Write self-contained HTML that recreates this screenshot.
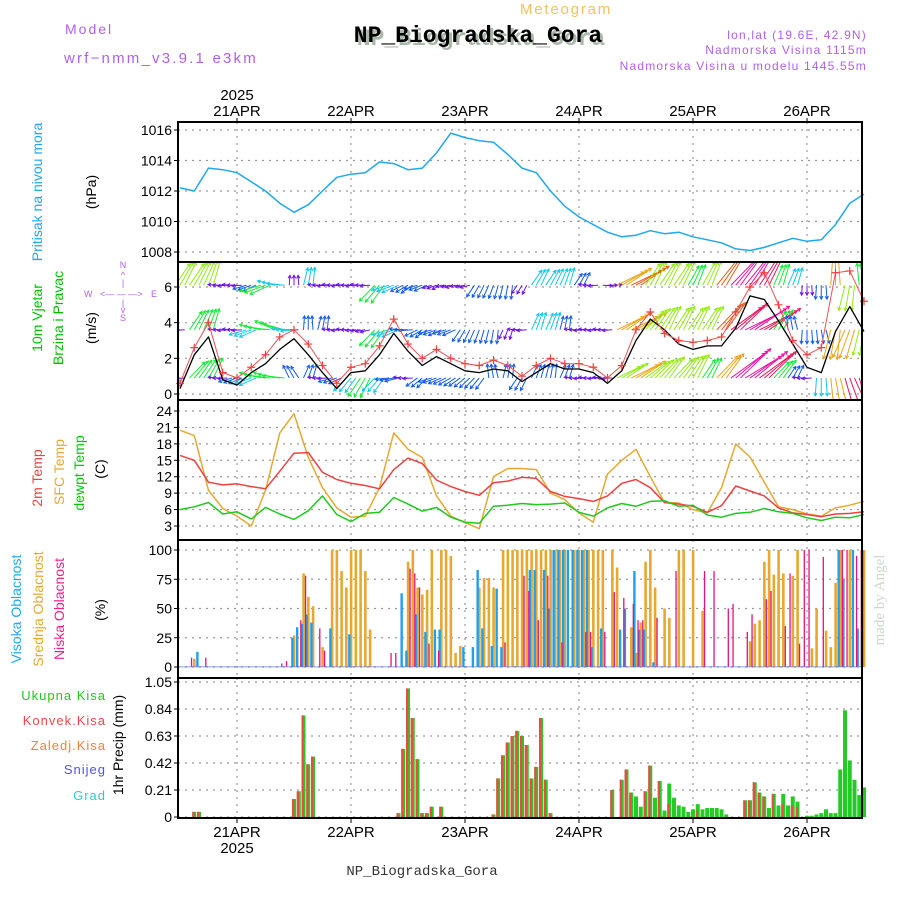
<!DOCTYPE html>
<html><head><meta charset="utf-8"><style>
body{margin:0;background:#fff;width:900px;height:900px;overflow:hidden}
svg{display:block}
text{font-family:"Liberation Sans",sans-serif}
.mono{font-family:"Liberation Mono",monospace}
.serif{font-family:"Liberation Serif",serif}
</style></head><body>
<svg id="c" width="900" height="900" xmlns="http://www.w3.org/2000/svg">
<defs><clipPath id="wclip"><rect x="178" y="262" width="684" height="138"/></clipPath></defs>
<g>
<text x="65" y="34" font-size="14" fill="#b060f0" letter-spacing="2">Model</text>
<text x="64" y="63" font-size="15" fill="#b060f0" letter-spacing="2.2">wrf−nmm_v3.9.1 e3km</text>
<text x="520" y="14" font-size="15" fill="#f5c060" letter-spacing="1.8">Meteogram</text>
<text x="481" y="45" font-size="23" font-weight="bold" class="mono" fill="#aab8aa" text-anchor="middle">NP_Biogradska_Gora</text>
<text x="478" y="42" font-size="23" font-weight="bold" class="mono" fill="#000" text-anchor="middle">NP_Biogradska_Gora</text>
<text x="867" y="39" font-size="12" fill="#b060f0" text-anchor="end" letter-spacing="1.2">lon,lat (19.6E, 42.9N)</text>
<text x="867" y="54" font-size="12" fill="#b060f0" text-anchor="end" letter-spacing="1.2">Nadmorska Visina 1115m</text>
<text x="867" y="70" font-size="12" fill="#b060f0" text-anchor="end" letter-spacing="1.2">Nadmorska Visina u modelu 1445.55m</text>
<text x="884" y="600" font-size="15" fill="#ccd8cc" class="serif" text-anchor="middle" transform="rotate(-90 884 600)">made by Angel</text>
<text x="422" y="875" font-size="14" class="mono" fill="#333" text-anchor="middle">NP_Biogradska_Gora</text>
</g>
<g>
<text transform="translate(42,192) rotate(-90)" font-size="14" fill="#1ea8f0" text-anchor="middle">Pritisak na nivou mora</text>
<text transform="translate(96,192) rotate(-90)" font-size="14" fill="#000" text-anchor="middle">(hPa)</text>
<text transform="translate(42,318) rotate(-90)" font-size="14" fill="#00c000" text-anchor="middle">10m Vjetar</text>
<text transform="translate(63,318) rotate(-90)" font-size="14" fill="#00c000" text-anchor="middle">Brzina i Pravac</text>
<text transform="translate(96,328) rotate(-90)" font-size="14" fill="#000" text-anchor="middle">(m/s)</text>
<g font-size="9" fill="#b060f0">
<text x="123" y="268" text-anchor="middle">N</text><text x="123" y="278" text-anchor="middle">^</text><text x="123" y="286" text-anchor="middle">|</text>
<text x="84" y="297">W</text><text x="100" y="297">&lt;— — —&gt;</text><text x="151" y="297">E</text>
<text x="123" y="306" text-anchor="middle">|</text><text x="123" y="313" text-anchor="middle">v</text><text x="123" y="321" text-anchor="middle">S</text>
</g>
<text transform="translate(42,478) rotate(-90)" font-size="14" fill="#f04040" text-anchor="middle">2m Temp</text>
<text transform="translate(64,472) rotate(-90)" font-size="14" fill="#e8a830" text-anchor="middle">SFC Temp</text>
<text transform="translate(84,473) rotate(-90)" font-size="14" fill="#00c800" text-anchor="middle">dewpt Temp</text>
<text transform="translate(105,469) rotate(-90)" font-size="14" fill="#000" text-anchor="middle">(C)</text>
<text transform="translate(21,609) rotate(-90)" font-size="14" fill="#1ea8f0" text-anchor="middle">Visoka Oblacnost</text>
<text transform="translate(43,609) rotate(-90)" font-size="14" fill="#e8a830" text-anchor="middle">Srednja Oblacnost</text>
<text transform="translate(64,609) rotate(-90)" font-size="14" fill="#f0208a" text-anchor="middle">Niska Oblacnost</text>
<text transform="translate(105,610) rotate(-90)" font-size="14" fill="#000" text-anchor="middle">(%)</text>
<g font-size="13" text-anchor="end" letter-spacing="1">
<text x="106" y="700" fill="#20c820">Ukupna  Kisa</text>
<text x="106" y="725" fill="#f04848">Konvek.Kisa</text>
<text x="106" y="750" fill="#f08040">Zaledj.Kisa</text>
<text x="106" y="774" fill="#5050f0">Snijeg</text>
<text x="106" y="800" fill="#30c8d0">Grad</text>
</g>
<text transform="translate(123,745) rotate(-90)" font-size="14" fill="#000" text-anchor="middle">1hr Precip (mm)</text>
</g>
<g id="plot"></g>
</svg>
<script>
// ---------- data ----------
const days=["21APR","22APR","23APR","24APR","25APR","26APR"];
const dayHours=[12,36,60,84,108,132];
const hours3=[0,3,6,9,12,15,18,21,24,27,30,33,36,39,42,45,48,51,54,57,60,63,66,69,72,75,78,81,84,87,90,93,96,99,102,105,108,111,114,117,120,123,126,129,132,135,138,141,144];
const pressure=[1012.2,1012.0,1013.5,1013.4,1013.2,1012.6,1012.0,1011.2,1010.6,1011.1,1012.0,1012.9,1013.1,1013.2,1013.9,1013.8,1013.4,1013.5,1014.5,1015.8,1015.5,1015.3,1015.2,1014.4,1013.5,1013.2,1012.0,1011.0,1010.3,1009.8,1009.3,1009.0,1009.1,1009.4,1009.2,1009.3,1009.0,1008.8,1008.6,1008.2,1008.1,1008.3,1008.6,1008.9,1008.7,1008.8,1009.8,1011.2,1011.8];
const pressureTicks=[1008,1010,1012,1014,1016];
const windSpeed=[0.3,2.2,3.2,0.8,0.5,1.2,1.7,2.5,3.1,2.2,1.2,0.3,1.2,1.3,2.2,3.4,2.4,1.6,2.1,1.7,1.3,1.2,1.4,1.3,0.7,1.2,1.7,1.4,1.4,1.2,0.6,1.3,3.0,4.2,3.6,2.8,2.5,2.7,2.7,3.7,5.5,5.3,4.1,2.8,1.5,1.2,3.5,4.9,3.5];
const windGust=[0.6,2.6,4.0,1.2,0.9,1.5,2.2,3.2,3.6,2.8,1.6,0.6,1.5,1.7,2.7,4.2,2.8,2.0,2.5,2.0,1.7,1.6,1.9,1.6,1.0,1.6,2.0,1.7,1.7,1.5,0.9,1.6,3.6,4.6,3.4,3.0,2.9,3.0,3.2,4.6,6.0,6.8,5.0,3.0,2.2,2.6,6.8,6.9,5.2];
const windTicks=[0,2,4,6];
const topSpd=[5,5,5,1,1,2,4,3,1,3,1,1,1,1,4,3,2,2,1,1,1,2,2,2,1,3,3,3,2,1,1,6,7,5,5,5,4,5,7,9,9,8,4,3,1,2,6,5,4];
const topDir=[60,60,70,180,180,200,200,170,90,80,180,180,180,180,230,200,210,200,200,190,190,240,250,260,240,60,60,70,60,180,0,30,30,60,60,60,65,65,55,50,55,60,70,70,270,270,90,260,100];
const midSpd=[1,4,4,1,1,3,4,4,3,2,2,1,1,1,4,3,2,2,2,2,2,2,2,1,1,3,3,2,1,1,1,6,6,5,5,5,5,5,7,8,9,8,4,2,2,2,6,6,5];
const midDir=[180,60,70,180,180,200,170,160,180,90,80,180,180,190,230,200,180,210,200,200,240,250,260,250,180,70,70,80,180,180,180,30,30,50,60,60,60,60,50,40,30,30,60,100,270,280,260,250,260];
const lowSpd=[1,4,4,1,2,3,4,4,2,2,1,2,3,4,3,2,1,2,2,2,2,2,2,2,2,2,2,2,1,1,1,5,6,5,5,5,5,4,6,9,9,8,4,2,1,3,6,8,9];
const lowDir=[180,50,60,180,200,200,170,170,120,70,180,200,230,240,230,190,180,220,200,210,220,230,100,80,240,70,80,70,180,180,180,30,30,40,50,50,60,60,50,40,35,40,50,60,180,270,280,290,290];
const sfcTemp=[20.5,19.5,9.5,6.2,4.8,3.0,9.5,20.0,23.5,15.5,10,6.3,4.6,4.8,10,20,17,15.5,8.5,4.8,3.6,2.5,12,13.5,13.5,13.3,9,7.8,5.4,3.7,12.5,15,17,12,7.3,7.2,6,5.4,10,18,15.6,11,6.5,6,5.2,4.8,6.3,6.8,7.5];
const t2m=[15.9,15,11,10.5,10.7,10.2,9.8,13,16.3,16.4,12.8,11.5,10.8,10.4,9.8,13.3,15.4,14.4,11.4,10.2,9.3,8.6,10.9,11.2,11.9,11.7,9.3,8.4,8,7.5,8.5,10.8,11.5,10,7.3,7,6.6,5.5,6.7,10.3,9.4,8.5,6.3,5.4,5.1,4.7,5.2,5.3,5.6];
const dewpt=[6,6.5,7.3,5.2,5.6,4.3,6.4,5.2,4.2,5.8,8.5,5.1,3.8,5.3,5.5,8.2,7,5.7,6.4,4.6,3.7,3.5,6.6,6.8,7.1,6.9,7,7.2,5.5,4.8,6.3,7.1,6.6,7.5,7.6,6.6,6.8,5,4.6,5.3,5.5,6.2,5.6,5.3,4.5,4,4.6,4.5,5.1];
const tempTicks=[3,6,9,12,15,18,21,24];
const highHours=[4,24,25,26,27,28,32,36,47,48,50,52,54,55,60,62,63,64,66,67,68,74,75,77,78,79,80,81,82,83,84,85,86,87,89,93,94,96,97,98,100,139,140,142,143,144];
const highCloud=[13,25,34,37,45,38,33,28,63,14,45,30,32,32,17,17,83,33,18,67,17,83,83,83,50,100,100,100,100,100,100,100,100,17,33,32,50,82,32,32,4,100,75,100,33,100];
const midHours=[3,24,26,27,28,30,32,33,34,35,36,37,38,39,40,48,49,50,51,52,53,55,56,57,58,59,63,64,65,66,68,69,70,71,72,73,74,75,76,77,78,79,80,81,83,84,85,86,87,88,89,91,92,95,96,97,98,99,100,102,103,105,106,108,110,120,121,122,123,124,125,126,127,129,130,133,134,136,137,138,139,141,144];
const midCloud=[7,27,80,60,52,17,100,100,82,68,100,100,100,82,32,90,100,68,62,66,100,100,100,95,12,18,68,76,76,68,100,100,100,100,100,100,100,100,100,100,100,100,100,100,100,100,100,100,100,100,100,100,85,34,12,38,90,100,68,50,42,100,100,100,48,22,37,40,90,100,79,100,80,78,100,16,50,31,17,72,100,100,100];
const lowHours=[2,5,21,22,25,26,29,30,44,45,48,49,50,52,54,68,72,73,75,77,80,85,86,89,91,93,95,96,97,100,104,110,112,115,116,119,120,123,124,127,128,130,131,132,135,139,140,142,143];
const lowCloud=[8,8,3,5,40,78,33,14,12,12,84,80,68,20,14,21,78,65,40,78,21,30,30,30,64,59,54,40,40,42,82,82,82,50,54,30,45,58,65,35,80,20,100,100,94,100,100,95,100];
const cloudTicks=[0,25,50,75,100];
const precipHours=[3,4,24,25,26,27,28,46,47,48,49,50,51,52,53,55,66,67,68,69,70,71,72,73,74,75,76,77,78,91,93,94,95,96,97,98,99,100,101,102,103,104,105,106,107,108,109,110,111,112,113,114,115,119,120,121,122,123,124,125,126,127,128,129,130,132,133,134,135,136,137,138,139,140,141,142,143,144];
const totalPrecip=[0.04,0.04,0.14,0.2,0.79,0.41,0.47,0.03,0.53,1.0,0.77,0.45,0.03,0.03,0.08,0.08,0.02,0.3,0.48,0.58,0.63,0.67,0.63,0.56,0.3,0.39,0.77,0.29,0.03,0.21,0.29,0.37,0.19,0.16,0.08,0.2,0.4,0.15,0.28,0.05,0.26,0.15,0.09,0.08,0.04,0.06,0.1,0.06,0.07,0.07,0.07,0.06,0.02,0.13,0.13,0.27,0.19,0.16,0.07,0.18,0.09,0.18,0.09,0.16,0.12,0.01,0.01,0.02,0.03,0.06,0.03,0.03,0.37,0.83,0.44,0.29,0.17,0.23];
const convPrecip=[0.04,0.04,0.14,0.2,0.79,0.41,0.47,0.03,0.53,1.0,0.77,0.45,0.03,0.03,0.08,0.08,0.02,0.3,0.48,0.58,0.63,0.67,0.63,0.56,0.3,0.39,0.77,0.29,0.03,0.21,0.29,0.37,0.19,0.0,0.0,0.2,0.4,0.0,0.28,0.0,0.1,0.0,0.0,0.0,0.0,0.0,0.05,0.0,0.0,0.0,0.0,0.0,0.0,0.13,0.13,0.27,0.19,0.16,0.0,0.18,0.0,0.1,0.0,0.09,0.08,0,0,0,0,0,0,0,0,0,0,0,0,0];
const precipTicks=[0,0.21,0.42,0.63,0.84,1.05];

// ---------- drawing ----------
const NS="http://www.w3.org/2000/svg";
const root=document.getElementById('plot');
const L=178,R=862;
const X=h=>180+h*4.75;
const P={pres:{t:122,b:262,y0:252,v0:1008,y1:130,v1:1016},
 wind:{t:262,b:400,y0:394,v0:0,y1:287,v1:6},
 temp:{t:400,b:540,y0:526,v0:3,y1:411,v1:24},
 cloud:{t:540,b:678,y0:667,v0:0,y1:550,v1:100},
 prec:{t:678,b:818,y0:817,v0:0,y1:682,v1:1.05}};
function Y(p,v){return p.y0+(v-p.v0)*(p.y1-p.y0)/(p.v1-p.v0);}
function mk(tag,attrs,parent){const e=document.createElementNS(NS,tag);for(const k in attrs)e.setAttribute(k,attrs[k]);(parent||root).appendChild(e);return e;}
function grid(p,ticks,name,fmt){
  const g=mk('g',{});
  
  
  dayHours.forEach(h=>mk('line',{x1:X(h),x2:X(h),y1:p.t,y2:p.b,stroke:'#999','stroke-dasharray':'2,5','stroke-width':1.2},g));
  ticks.forEach(v=>{const y=Y(p,v);
    mk('line',{x1:L,x2:R,y1:y,y2:y,stroke:'#999','stroke-dasharray':'2,5','stroke-width':1.2},g);
    mk('line',{x1:L-4,x2:L,y1:y,y2:y,stroke:'#000'},g);
    const t=mk('text',{x:L-6,y:y+5,'text-anchor':'end','font-size':14,fill:'#000'},g);t.textContent=fmt?fmt(v):v;
    
    
  });
}
function line(xs,vs,p,col,name,w){
  const d=xs.map((h,i)=>(i?'L':'M')+X(h).toFixed(1)+' '+Y(p,vs[i]).toFixed(1)).join(' ');
  const e=mk('path',{d:d,fill:'none',stroke:col,'stroke-width':w||1.5,'stroke-linejoin':'round'});
  
  
}
grid(P.pres,pressureTicks,'pressure');
grid(P.wind,windTicks,'wind');
grid(P.temp,tempTicks,'temp');
grid(P.cloud,cloudTicks,'cloud');
grid(P.prec,precipTicks,'precip',v=>v===0?'0':v.toFixed(2));
line(hours3,pressure,P.pres,'#1ea8f0','pressure-line');
function spdColor(s){const hue=[280,265,220,190,130,85,40,20,340,320][s];return 'hsl('+hue+',85%,50%)';}
const wg=mk('g',{'clip-path':'url(#wclip)'});


function arrows(spd,dir,base,name){
  const g=mk('g',{},wg);
  
  
  hours3.forEach((h,i)=>{
    [-1,0,1].forEach(o=>{
      const x=X(h+o),y=Y(P.wind,base),len=6+spd[i]*4,a=(dir[i]+o*4)*Math.PI/180;
      const x2=x+len*Math.cos(a),y2=y-len*Math.sin(a);
      const c=spdColor(spd[i]);
      const a1=a+Math.PI-0.5,a2=a+Math.PI+0.5;
      const ar=mk('path',{d:`M${x} ${y}L${x2} ${y2}M${x2+3.5*Math.cos(a1)} ${y2-3.5*Math.sin(a1)}L${x2} ${y2}L${x2+3.5*Math.cos(a2)} ${y2-3.5*Math.sin(a2)}`,stroke:c,fill:'none','stroke-width':1},g);
      
      
    });
  });
}
arrows(topSpd,topDir,6.1,'wind-arrows-upper');
arrows(midSpd,midDir,3.6,'wind-arrows-middle');
arrows(lowSpd,lowDir,0.9,'wind-arrows-lower');
line(hours3,windSpeed,P.wind,'#000','wind-speed-line',1.3);
line(hours3,windGust,P.wind,'#f05050','wind-gust-line',1);
hours3.forEach((h,i)=>{const x=X(h),y=Y(P.wind,windGust[i]);
  const c=mk('path',{d:`M${x-4} ${y}H${x+4}M${x} ${y-4}V${y+4}`,stroke:'#f04040','stroke-width':1.2});
  
  
});
line(hours3,sfcTemp,P.temp,'#e8a830','sfc-temp-line');
line(hours3,t2m,P.temp,'#f04040','t2m-line');
line(hours3,dewpt,P.temp,'#20c820','dewpt-line');
function bars(hs,vs,p,col,off,w,name){
  hs.forEach((h,i)=>{const y=Y(p,vs[i]),y0=Y(p,0);
    const r=mk('rect',{x:X(h)+off,y:y,width:w,height:Math.max(0,y0-y),fill:col});
    
    
  });
}
bars(midHours,midCloud,P.cloud,'#e8a830',-1.2,2.6,'mid-cloud-bar');
bars(highHours,highCloud,P.cloud,'#1ea0f0',-2.8,2.4,'high-cloud-bar');
bars(lowHours,lowCloud,P.cloud,'#e8107a',1.4,1.3,'low-cloud-bar');
mk('rect',{x:L,y:666,width:R-L,height:1.5,fill:'#6080e0',opacity:0.5});
bars(precipHours,totalPrecip,P.prec,'#22cc22',-2,4,'total-precip-bar');
bars(precipHours,convPrecip,P.prec,'#f04848',-2,2.2,'conv-precip-bar');
Object.keys(P).forEach(k=>{const p=P[k];
  const r=mk('rect',{x:L,y:p.t,width:R-L,height:p.b-p.t,fill:'none',stroke:'#000','stroke-width':2});
  
  
});
const yr=mk('text',{x:X(12),y:100,'text-anchor':'middle','font-size':15});yr.textContent='2025';


const yr2=mk('text',{x:X(12),y:853,'text-anchor':'middle','font-size':15});yr2.textContent='2025';


days.forEach((d,i)=>{
  const x=X(dayHours[i]);
  const t=mk('text',{x:x,y:116,'text-anchor':'middle','font-size':15});t.textContent=d;
  
  
  const b=mk('text',{x:x,y:837,'text-anchor':'middle','font-size':15});b.textContent=d;
  
  
  mk('line',{x1:x,x2:x,y1:118,y2:122,stroke:'#000'});
  mk('line',{x1:x,x2:x,y1:818,y2:823,stroke:'#000'});
});
</script>
</body></html>
